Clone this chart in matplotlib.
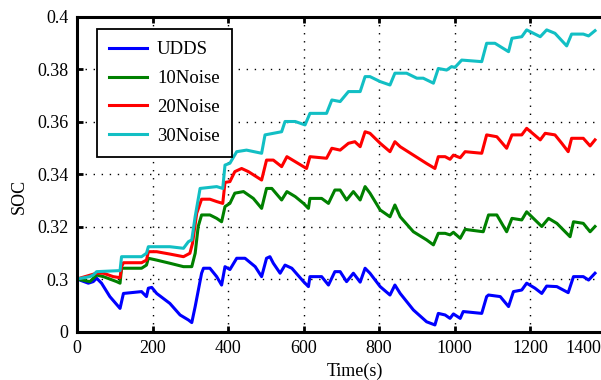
import numpy as np
import matplotlib
matplotlib.use("Agg")
import matplotlib.pyplot as plt
import matplotlib.transforms as mtransforms
from matplotlib.ticker import FixedLocator, FixedFormatter

# ── Data ─────────────────────────────────────────────────────────────────────
udds_t = [0, 30, 43, 52, 65, 87, 114, 123, 171, 184, 189, 198, 211, 246, 273, 295,
          304, 313, 330, 335, 352, 370, 383, 392, 405, 423, 445, 472, 489, 502,
          511, 520, 538, 551, 569, 600, 613, 617, 648, 666, 683, 697, 714, 732,
          750, 763, 776, 803, 829, 842, 856, 891, 926, 948, 957, 975, 988, 997,
          1015, 1023, 1072, 1085, 1090, 1121, 1143, 1156, 1178, 1191, 1213, 1231,
          1244, 1271, 1301, 1315, 1341, 1355, 1372]
udds_soc = [0.3, 0.2984, 0.299, 0.3003, 0.2984, 0.2933, 0.2888, 0.2945, 0.2952,
            0.2933, 0.2965, 0.2968, 0.2945, 0.2907, 0.2863, 0.2844, 0.2834, 0.2895,
            0.3022, 0.3041, 0.3041, 0.3009, 0.2977, 0.3047, 0.3036, 0.3079, 0.3079,
            0.3047, 0.3009, 0.3079, 0.3085, 0.306, 0.3022, 0.3053, 0.3041, 0.299,
            0.2971, 0.3009, 0.3009, 0.2977, 0.3028, 0.3028, 0.299, 0.3022, 0.2988,
            0.3041, 0.3022, 0.2971, 0.2939, 0.2977, 0.2945, 0.2882, 0.2837, 0.2825,
            0.2869, 0.2863, 0.285, 0.2867, 0.285, 0.2876, 0.2869, 0.2933, 0.2939,
            0.2933, 0.2895, 0.2952, 0.2958, 0.2984, 0.2965, 0.2945, 0.2973, 0.2971,
            0.2948, 0.3009, 0.3009, 0.2996, 0.3022]

n10_t = [0, 34, 52, 70, 105, 114, 118, 171, 184, 189, 211, 246, 282, 304, 313, 321,
         330, 352, 370, 383, 392, 405, 418, 441, 467, 489, 502, 516, 542, 556, 578,
         600, 613, 617, 648, 666, 683, 697, 714, 732, 750, 763, 776, 803, 829, 842,
         856, 891, 926, 944, 957, 975, 988, 997, 1015, 1028, 1076, 1090, 1112, 1138,
         1152, 1178, 1191, 1231, 1249, 1271, 1306, 1315, 1341, 1359, 1372]
n10_soc = [0.3, 0.299, 0.3015, 0.3009, 0.299, 0.2984, 0.3041, 0.3041, 0.3053, 0.3079,
           0.3072, 0.306, 0.3047, 0.3047, 0.3098, 0.32, 0.3244, 0.3244, 0.3231,
           0.3218, 0.3276, 0.3288, 0.3327, 0.3333, 0.3307, 0.3269, 0.3345, 0.3345,
           0.3301, 0.3333, 0.3314, 0.3288, 0.3269, 0.3307, 0.3307, 0.3288, 0.3339,
           0.3339, 0.3301, 0.3333, 0.3301, 0.3352, 0.3327, 0.3263, 0.3237, 0.3282,
           0.3237, 0.318, 0.3149, 0.313, 0.3174, 0.3174, 0.3168, 0.3178, 0.3155,
           0.3189, 0.318, 0.3244, 0.3244, 0.318, 0.3231, 0.3225, 0.3256, 0.32,
           0.3231, 0.3212, 0.3161, 0.3218, 0.3212, 0.318, 0.32]

n20_t = [0, 52, 70, 96, 114, 118, 123, 171, 184, 189, 211, 246, 282, 299, 306, 317,
         330, 352, 370, 386, 392, 405, 418, 436, 454, 489, 502, 520, 542, 556, 578,
         608, 617, 661, 675, 697, 719, 736, 750, 763, 776, 803, 829, 842, 856, 891,
         926, 948, 957, 975, 988, 997, 1015, 1028, 1072, 1085, 1112, 1138, 1152,
         1178, 1191, 1227, 1240, 1266, 1284, 1301, 1310, 1341, 1359, 1372]
n20_soc = [0.3, 0.3022, 0.3022, 0.3009, 0.3005, 0.3047, 0.3062, 0.3062, 0.3072,
           0.3104, 0.3104, 0.3095, 0.3085, 0.3098, 0.3136, 0.325, 0.3304, 0.3304,
           0.3295, 0.3288, 0.3368, 0.3371, 0.3409, 0.3421, 0.3409, 0.3377, 0.3453,
           0.3453, 0.3428, 0.3466, 0.3447, 0.3421, 0.3466, 0.346, 0.3498, 0.3491,
           0.3517, 0.3523, 0.3504, 0.3561, 0.3555, 0.3517, 0.3485, 0.3523, 0.3504,
           0.3472, 0.344, 0.3421, 0.3466, 0.3466, 0.3456, 0.3472, 0.3462, 0.3485,
           0.3479, 0.3549, 0.3542, 0.3498, 0.3549, 0.3549, 0.3574, 0.353, 0.3555,
           0.3549, 0.3517, 0.3485, 0.3536, 0.3536, 0.3507, 0.353]

n30_t = [0, 34, 43, 52, 114, 118, 171, 184, 189, 246, 282, 295, 304, 313, 326, 370,
         386, 392, 405, 423, 449, 489, 498, 520, 542, 551, 578, 604, 617, 661, 675,
         697, 719, 750, 763, 776, 803, 829, 842, 873, 900, 917, 944, 957, 979, 992,
         1001, 1019, 1072, 1085, 1107, 1143, 1152, 1178, 1191, 1227, 1244, 1266,
         1297, 1310, 1341, 1355, 1372]
n30_soc = [0.3, 0.3009, 0.3015, 0.3028, 0.3032, 0.3085, 0.3085, 0.3098, 0.3123,
           0.3123, 0.3117, 0.3142, 0.3149, 0.3238, 0.3345, 0.3352, 0.3345, 0.3434,
           0.3441, 0.3485, 0.3491, 0.3479, 0.3549, 0.3555, 0.3561, 0.36, 0.36,
           0.3587, 0.3631, 0.3631, 0.3682, 0.3676, 0.3714, 0.3714, 0.3771, 0.3771,
           0.3752, 0.3739, 0.3784, 0.3784, 0.3765, 0.3765, 0.3746, 0.3802, 0.3796,
           0.3809, 0.3806, 0.3834, 0.3828, 0.3898, 0.3898, 0.3866, 0.3917, 0.3923,
           0.3949, 0.3923, 0.3949, 0.3936, 0.3888, 0.3933, 0.3933, 0.3926, 0.3946]

x_ticks = [0, 200, 400, 600, 800, 1000, 1200, 1400]
y_ticks = [0.28, 0.30, 0.32, 0.34, 0.36, 0.38, 0.40]
y_ticklabels = ["0", "0.3", "0.32", "0.34", "0.36", "0.38", "0.4"]

series = [
    ("UDDS", udds_t, udds_soc, "#0000ff"),
    ("10Noise", n10_t, n10_soc, "#008000"),
    ("20Noise", n20_t, n20_soc, "#ff0000"),
    ("30Noise", n30_t, n30_soc, "#12bfc4"),
]

# ── Plot ─────────────────────────────────────────────────────────────────────
plt.rcParams["font.family"] = ["Liberation Serif", "DejaVu Serif"]
plt.rcParams["font.size"] = 13

fig = plt.figure(figsize=(6.01, 3.8), dpi=100)
# axes runs past the right edge, as in the cropped original
ax = fig.add_axes([77 / 601, 48.5 / 380, 555 / 601, 315 / 380])

for name, t, soc, col in series:
    ax.plot(t, soc, color=col, lw=2.2, label=name)

ax.set_xlim(0, 1470)
ax.set_ylim(0.28, 0.40)
ax.xaxis.set_major_locator(FixedLocator(x_ticks))
ax.yaxis.set_major_locator(FixedLocator(y_ticks))
ax.yaxis.set_major_formatter(FixedFormatter(y_ticklabels))
ax.tick_params(direction="in", length=4, width=2, top=True, right=True,
               labelsize=13, pad=6)
for s in ax.spines.values():
    s.set_linewidth(2.2)
ax.grid(True, color="black", lw=1.0, ls=(0, (1, 4.8)))

# last x label sits just inside the cropped right edge
fig.canvas.draw()
last = ax.get_xticklabels()[-1]
last.set_horizontalalignment("right")
last.set_transform(last.get_transform()
                   + mtransforms.ScaledTranslation(-4 / 100, 0, fig.dpi_scale_trans))

ax.set_xlabel("Time(s)", fontsize=13, labelpad=4)
ax.set_ylabel("SOC", fontsize=13)
ax.yaxis.set_label_coords(-0.088, 0.43)

leg = ax.legend(loc="upper left", bbox_to_anchor=(97 / 601, 1 - 29 / 380),
                bbox_transform=fig.transFigure, fancybox=False, framealpha=1,
                edgecolor="black", handlelength=2.0, handletextpad=0.55,
                labelspacing=0.62, borderpad=0.65, borderaxespad=0,
                fontsize=13.5)
leg.get_frame().set_linewidth(1.3)

fig.savefig("out.png", dpi=100)
plt.close(fig)
